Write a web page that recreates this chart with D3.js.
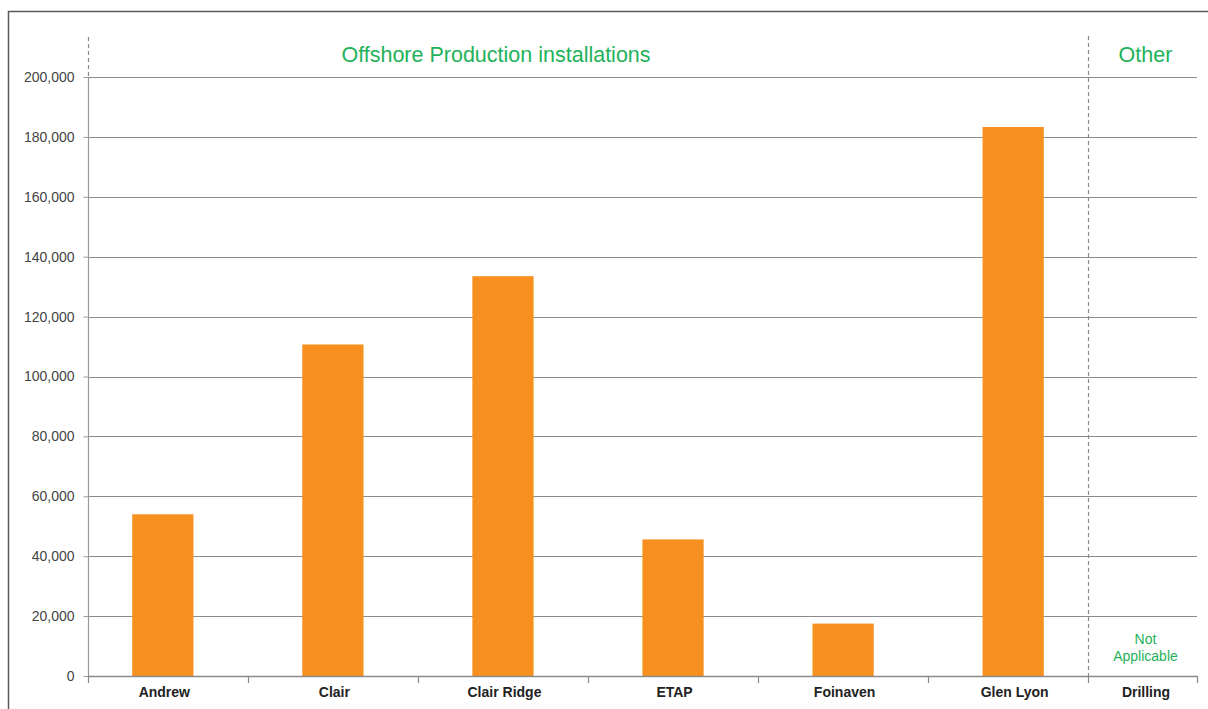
<!DOCTYPE html>
<html>
<head>
<meta charset="utf-8">
<script src="https://cdn.jsdelivr.net/npm/d3@7"></script>
<style>
  html, body { margin: 0; padding: 0; background: #fff; }
  svg { display: block; }
</style>
</head>
<body>
<svg id="chart" width="1208" height="709"></svg>
<script>
// ---- data ----
const categories = ["Andrew", "Clair", "Clair Ridge", "ETAP", "Foinaven", "Glen Lyon"];
const values = [54000, 110700, 133500, 45600, 17500, 183300];
const otherCategories = ["Drilling"];
const otherNote = ["Not", "Applicable"];
const yTicks = [0, 20000, 40000, 60000, 80000, 100000, 120000, 140000, 160000, 180000, 200000];
const sectionTitles = ["Offshore Production installations", "Other"];

// ---- layout ----
const W = 1208, H = 709;
const pLeft = 88, pRight = 1197, pTop = 77, pBottom = 676, pSplit = 1088;
const green = "#1fb25a", orange = "#f7901e", gridCol = "#8c8c8c", axisCol = "#9a9a9a";
const font = "'Liberation Sans', Arial, sans-serif";

const svg = d3.select("#chart");

const y = d3.scaleLinear().domain([0, 200000]).range([pBottom, pTop]);
const xMain = d3.scalePoint().domain(categories).range([pLeft, pSplit]).padding(0.44);
const xOther = d3.scalePoint().domain(otherCategories).range([pSplit, pRight]).padding(0.5);

// frame
svg.append("path")
  .attr("d", `M8.5,${H} L8.5,11.5 L${W},11.5`)
  .attr("fill", "none").attr("stroke", "#5a5a5a").attr("stroke-width", 1.5);

// gridlines
svg.append("g").selectAll("line").data(yTicks.filter(d => d > 0)).join("line")
  .attr("x1", pLeft).attr("x2", pRight)
  .attr("y1", d => Math.round(y(d)) + 0.5).attr("y2", d => Math.round(y(d)) + 0.5)
  .attr("stroke", gridCol).attr("stroke-width", 1.2);

// y axis
const yAxis = svg.append("g").attr("transform", `translate(${pLeft + 0.5},0)`)
  .call(d3.axisLeft(y).tickValues(yTicks).tickFormat(d3.format(",")).tickSize(5).tickPadding(9));
yAxis.select(".domain").attr("stroke", axisCol).attr("stroke-width", 1.2).attr("d", `M0,${pTop}V${pBottom}`);
yAxis.selectAll(".tick line").attr("stroke", axisCol);
yAxis.selectAll(".tick text").attr("fill", "#444").style("font-family", font).style("font-size", "14px");

// dashed separators
svg.append("line").attr("x1", pLeft + 0.5).attr("x2", pLeft + 0.5).attr("y1", 37).attr("y2", pTop)
  .attr("stroke", "#8a8a8a").attr("stroke-dasharray", "4,3").attr("stroke-width", 1.2);
svg.append("line").attr("x1", pSplit + 0.5).attr("x2", pSplit + 0.5).attr("y1", 36).attr("y2", pBottom)
  .attr("stroke", "#8a8a8a").attr("stroke-dasharray", "4,3").attr("stroke-width", 1.2);

// bars
const barW = xMain.step() * 0.36;
svg.append("g").selectAll("rect").data(categories).join("rect")
  .attr("x", (d) => xMain(d) - barW / 2)
  .attr("width", barW)
  .attr("y", (d, i) => y(values[i]))
  .attr("height", (d, i) => y(0) - y(values[i]))
  .attr("fill", orange);

// x axis baseline
svg.append("line").attr("x1", pLeft).attr("x2", pRight + 0.5)
  .attr("y1", pBottom + 0.5).attr("y2", pBottom + 0.5)
  .attr("stroke", "#8a8a8a").attr("stroke-width", 1.4);

// category boundary ticks (midway between categories)
const centers = categories.map(d => xMain(d));
const boundaries = [pLeft]
  .concat(centers.slice(1).map((c, i) => (c + centers[i]) / 2))
  .concat([pSplit, pRight]);
svg.append("g").selectAll("line").data(boundaries).join("line")
  .attr("x1", d => Math.round(d) + 0.5).attr("x2", d => Math.round(d) + 0.5)
  .attr("y1", pBottom).attr("y2", pBottom + 7)
  .attr("stroke", "#8a8a8a").attr("stroke-width", 1.2);

// category labels via axes
const xAxisMain = svg.append("g").attr("transform", `translate(1,${pBottom})`)
  .call(d3.axisBottom(xMain).tickSize(0).tickPadding(11));
const xAxisOther = svg.append("g").attr("transform", `translate(3,${pBottom})`)
  .call(d3.axisBottom(xOther).tickSize(0).tickPadding(11));
[xAxisMain, xAxisOther].forEach(a => {
  a.select(".domain").remove();
  a.selectAll(".tick text").attr("fill", "#222").style("font-family", font)
    .style("font-size", "14px").style("font-weight", "bold");
});

// section titles
svg.append("text").attr("x", 496).attr("y", 62)
  .attr("text-anchor", "middle").attr("fill", green)
  .style("font-family", font).style("font-size", "21.5px")
  .text(sectionTitles[0]);
svg.append("text").attr("x", xOther(otherCategories[0]) + 3).attr("y", 62)
  .attr("text-anchor", "middle").attr("fill", green)
  .style("font-family", font).style("font-size", "21.5px")
  .text(sectionTitles[1]);

// not applicable note
svg.append("g").selectAll("text").data(otherNote).join("text")
  .attr("x", xOther(otherCategories[0]) + 3)
  .attr("y", (d, i) => 644 + i * 16.5)
  .attr("text-anchor", "middle").attr("fill", green)
  .style("font-family", font).style("font-size", "14px")
  .text(d => d);
</script>
</body>
</html>
